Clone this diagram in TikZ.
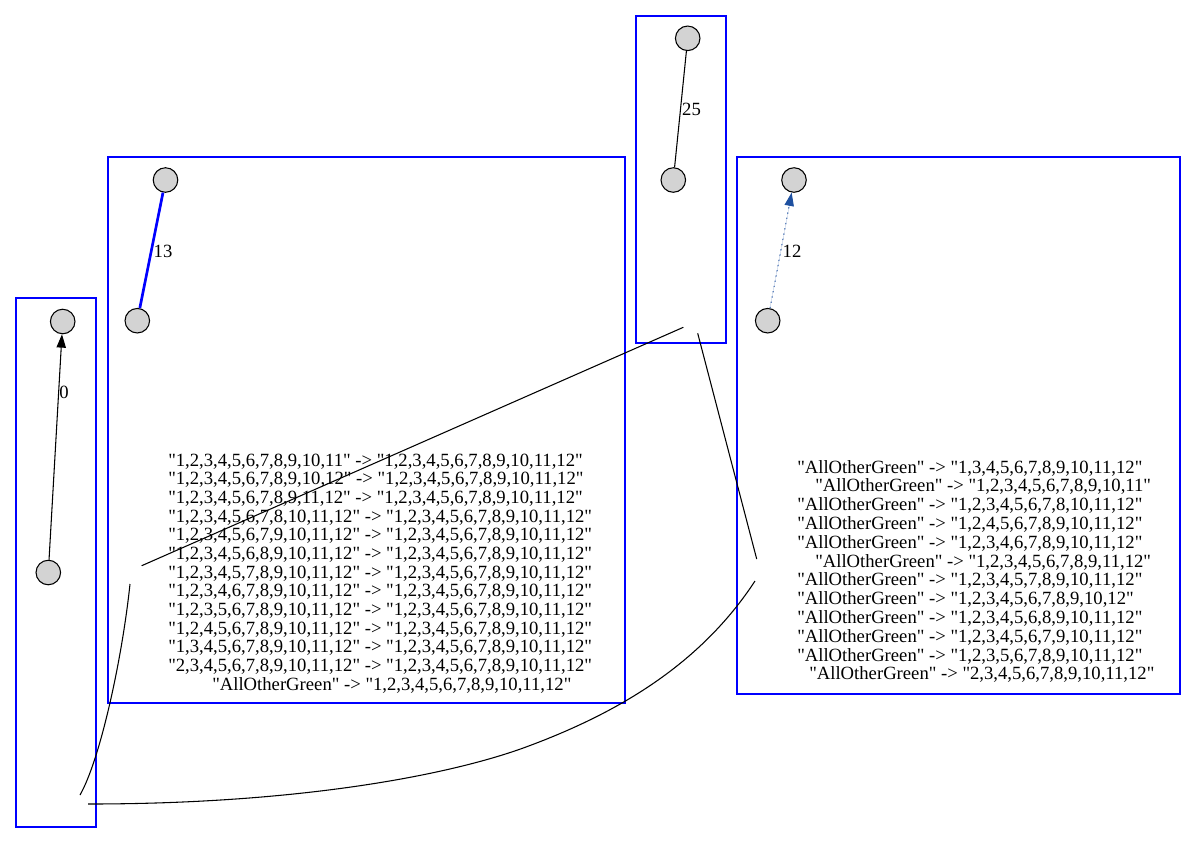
\documentclass[tikz,border=0pt]{standalone}
\usepackage{fontspec}
\newfontfamily\gvfont{Liberation Serif}
\usetikzlibrary{arrows.meta}
\definecolor{clusterblue}{RGB}{0,0,255}
\definecolor{dotblue}{RGB}{30,80,160}
\definecolor{nodegray}{RGB}{211,211,211}
\begin{document}
\begin{tikzpicture}[x=0.75pt,y=-0.75pt,
  cluster/.style={draw=clusterblue, line width=0.9pt},
  vertex/.style={circle, draw=black, fill=nodegray, line width=0.8pt, minimum size=18.4pt, inner sep=0pt},
  elabel/.style={font=\gvfont\fontsize{14}{14}\selectfont, inner sep=0pt},
  txt/.style={font=\gvfont\fontsize{14}{14}\selectfont, anchor=base west, inner sep=0pt},
  link/.style={draw=black, line width=0.8pt},
  tip/.style={-{Triangle[length=10pt,width=7pt]}}
  ]
\useasboundingbox (0,0) rectangle (1196,844);
% clusters
\draw[cluster] (16,298) rectangle (96,827);
\draw[cluster] (108,157) rectangle (625,703);
\draw[cluster] (636,16) rectangle (726,343);
\draw[cluster] (737,157) rectangle (1180,694);
% text of cluster B
\node[txt] (t1) at (168,466) {"1,2,3,4,5,6,7,8,9,10,11" -> "1,2,3,4,5,6,7,8,9,10,11,12"};
\node[txt] (t2) at (168,484.67) {"1,2,3,4,5,6,7,8,9,10,12" -> "1,2,3,4,5,6,7,8,9,10,11,12"};
\node[txt] (t3) at (168,503.33) {"1,2,3,4,5,6,7,8,9,11,12" -> "1,2,3,4,5,6,7,8,9,10,11,12"};
\node[txt] (t4) at (168,522) {"1,2,3,4,5,6,7,8,10,11,12" -> "1,2,3,4,5,6,7,8,9,10,11,12"};
\node[txt] (t5) at (168,540.67) {"1,2,3,4,5,6,7,9,10,11,12" -> "1,2,3,4,5,6,7,8,9,10,11,12"};
\node[txt] (t6) at (168,559.33) {"1,2,3,4,5,6,8,9,10,11,12" -> "1,2,3,4,5,6,7,8,9,10,11,12"};
\node[txt] (t7) at (168,578) {"1,2,3,4,5,7,8,9,10,11,12" -> "1,2,3,4,5,6,7,8,9,10,11,12"};
\node[txt] (t8) at (168,596.67) {"1,2,3,4,6,7,8,9,10,11,12" -> "1,2,3,4,5,6,7,8,9,10,11,12"};
\node[txt] (t9) at (168,615.33) {"1,2,3,5,6,7,8,9,10,11,12" -> "1,2,3,4,5,6,7,8,9,10,11,12"};
\node[txt] (t10) at (168,634) {"1,2,4,5,6,7,8,9,10,11,12" -> "1,2,3,4,5,6,7,8,9,10,11,12"};
\node[txt] (t11) at (168,652.67) {"1,3,4,5,6,7,8,9,10,11,12" -> "1,2,3,4,5,6,7,8,9,10,11,12"};
\node[txt] (t12) at (168,671.33) {"2,3,4,5,6,7,8,9,10,11,12" -> "1,2,3,4,5,6,7,8,9,10,11,12"};
\node[txt] (t13) at (212,690) {"AllOtherGreen" -> "1,2,3,4,5,6,7,8,9,10,11,12"};
% text of cluster D
\node[txt] (u1) at (797,473) {"AllOtherGreen" -> "1,3,4,5,6,7,8,9,10,11,12"};
\node[txt] (u2) at (815,491.8) {"AllOtherGreen" -> "1,2,3,4,5,6,7,8,9,10,11"};
\node[txt] (u3) at (797,510.6) {"AllOtherGreen" -> "1,2,3,4,5,6,7,8,10,11,12"};
\node[txt] (u4) at (797,529.4) {"AllOtherGreen" -> "1,2,4,5,6,7,8,9,10,11,12"};
\node[txt] (u5) at (797,548.2) {"AllOtherGreen" -> "1,2,3,4,6,7,8,9,10,11,12"};
\node[txt] (u6) at (815,567) {"AllOtherGreen" -> "1,2,3,4,5,6,7,8,9,11,12"};
\node[txt] (u7) at (797,585.8) {"AllOtherGreen" -> "1,2,3,4,5,7,8,9,10,11,12"};
\node[txt] (u8) at (797,604.6) {"AllOtherGreen" -> "1,2,3,4,5,6,7,8,9,10,12"};
\node[txt] (u9) at (797,623.4) {"AllOtherGreen" -> "1,2,3,4,5,6,8,9,10,11,12"};
\node[txt] (u10) at (797,642.2) {"AllOtherGreen" -> "1,2,3,4,5,6,7,9,10,11,12"};
\node[txt] (u11) at (797,661) {"AllOtherGreen" -> "1,2,3,5,6,7,8,9,10,11,12"};
\node[txt] (u12) at (809,679.8) {"AllOtherGreen" -> "2,3,4,5,6,7,8,9,10,11,12"};
% vertices
\node[vertex] (a1) at (62.7,321.5) {};
\node[vertex] (a2) at (48.3,572.5) {};
\node[vertex] (b1) at (165.5,180) {};
\node[vertex] (b2) at (137.3,320.7) {};
\node[vertex] (c1) at (687.7,38.3) {};
\node[vertex] (c2) at (673.3,180) {};
\node[vertex] (d1) at (794,180) {};
\node[vertex] (d2) at (767.7,320.7) {};
% edges inside clusters
\draw[link, tip] (a2) -- (a1);
\node[elabel] (la) at (64,392.5) {0};
\draw[draw=blue, line width=2pt] (b2) -- (b1);
\node[elabel] (lb) at (163,251.5) {13};
\draw[link] (c2) -- (c1);
\node[elabel] (lc) at (691.5,109.5) {25};
\draw[draw=dotblue, fill=dotblue, line width=0.7pt, dash pattern=on 1pt off 3pt, tip] (d2) -- (d1);
\node[elabel] (ld) at (792,251.5) {12};
% connectors between clusters
\coordinate (p1) at (141.7,565.7);
\coordinate (p2) at (683.3,327.3);
\coordinate (q1) at (697.7,333.3);
\coordinate (q2) at (756.7,559);
\coordinate (r1) at (130,584);
\coordinate (r2) at (80,795);
\coordinate (s1) at (88,804);
\coordinate (s2) at (526,747);
\coordinate (s3) at (755,581);
\draw[link] (p1) -- (p2);
\draw[link] (q1) -- (q2);
\draw[link] (r1) .. controls (122,660) and (100,760) .. (r2);
\draw[link] (s1) .. controls (300,804) and (450,775) .. (s2) .. controls (617,713.4) and (700,665) .. (s3);
\end{tikzpicture}
\end{document}
